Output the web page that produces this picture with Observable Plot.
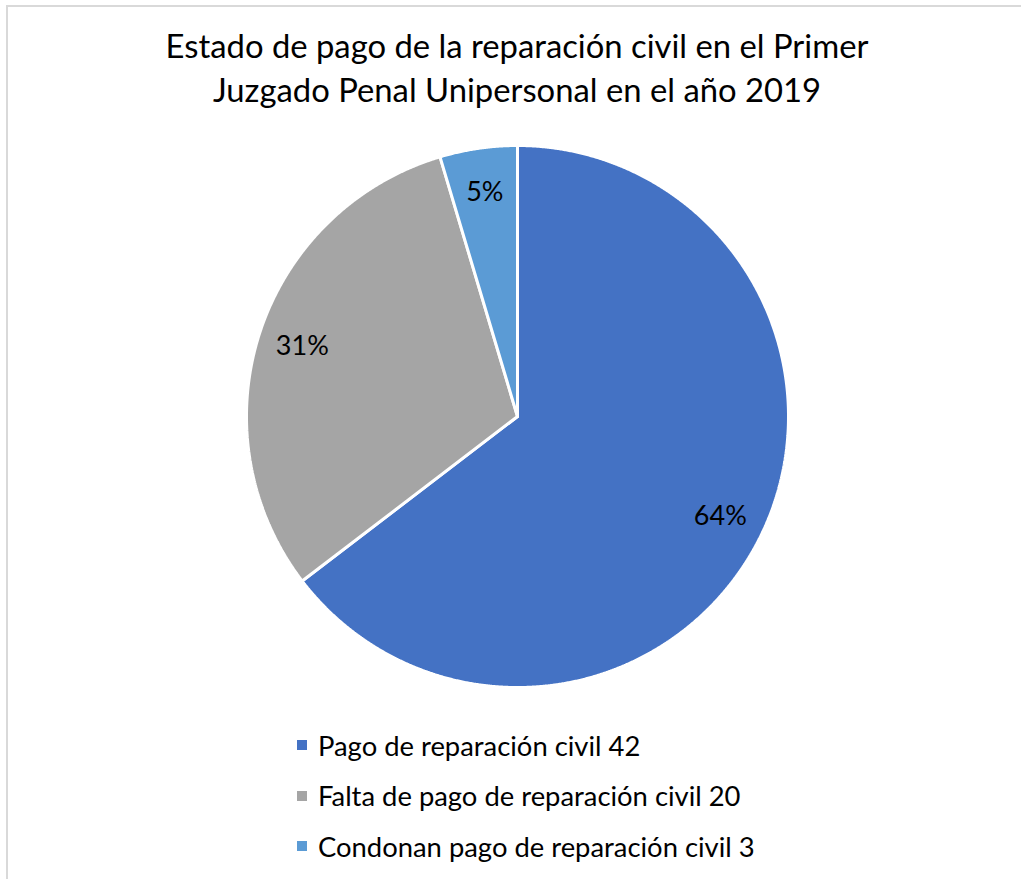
<!DOCTYPE html>
<html><head><meta charset="utf-8">
<script src="https://cdn.jsdelivr.net/npm/d3@7"></script>
<script src="https://cdn.jsdelivr.net/npm/@observablehq/plot@0.6"></script>
<style>
body{margin:0;background:#fff;font-family:Lato,"Open Sans",sans-serif;color:#000;}
#wrap{position:relative;width:1021px;height:879px;overflow:hidden;background:#fff;}
#frame{position:absolute;left:6px;top:5px;width:1100px;height:1000px;border-left:2px solid #d9d9d9;border-top:2px solid #d9d9d9;}
#title{position:absolute;top:24px;left:0;width:1034px;text-align:center;font-size:32.8px;line-height:44px;}
#chart{position:absolute;left:0;top:136px;}
#legend{position:absolute;left:297px;top:720px;font-size:27.4px;}
.row{display:flex;align-items:center;height:50.5px;}
.sw{width:10px;height:10px;margin-right:11px;}
</style>
</head><body>
<div id="wrap">
  <div id="frame"></div>
  <div id="title">Estado de pago de la reparación civil en el Primer<br>Juzgado Penal Unipersonal en el año 2019</div>
  <div id="chart"></div>
  <div id="legend"></div>
</div>
<script>
const categories = ["Pago de reparación civil", "Falta de pago de reparación civil", "Condonan pago de reparación civil"];
const values = [42, 20, 3];
const percentLabels = ["64%", "31%", "5%"];
const colors = ["#4472C4", "#A5A5A5", "#5B9BD5"];

const arcs = d3.pie().sort(null).value(d => d)(values);

// slice outlines in unit-circle coordinates (angle measured clockwise from top)
const slicePts = [];
arcs.forEach((a, i) => {
  const cat = categories[i];
  slicePts.push({cat, x: 0, y: 0});
  const n = Math.max(2, Math.ceil((a.endAngle - a.startAngle) / 0.004));
  for (let k = 0; k <= n; k++) {
    const t = a.startAngle + (a.endAngle - a.startAngle) * k / n;
    slicePts.push({cat, x: Math.sin(t), y: Math.cos(t)});
  }
  slicePts.push({cat, x: 0, y: 0});
});

const labelR = 0.835;
const labels = arcs.map((a, i) => {
  const m = (a.startAngle + a.endAngle) / 2;
  return {cat: categories[i], x: labelR * Math.sin(m), y: labelR * Math.cos(m), text: percentLabels[i]};
});

const W = 1021, H = 560, R = 271, cx = 517;
const plot = Plot.plot({
  width: W, height: H, margin: 0,
  x: {domain: [-cx / R, (W - cx) / R], axis: null},
  y: {domain: [-(H / 2) / R, (H / 2) / R], axis: null},
  color: {domain: categories, range: colors},
  style: {background: "transparent", overflow: "visible"},
  marks: [
    Plot.line(slicePts, {x: "x", y: "y", z: "cat", fill: "cat", stroke: "white", strokeWidth: 3, strokeLinejoin: "miter", curve: "linear"}),
    Plot.text(labels, {x: "x", y: "y", text: "text", fontSize: 27, fill: "black", fontFamily: "Lato"})
  ]
});
document.getElementById("chart").appendChild(plot);

const leg = d3.select("#legend");
categories.forEach((c, i) => {
  const row = leg.append("div").attr("class", "row");
  row.append("div").attr("class", "sw").style("background", colors[i]);
  row.append("span").text(c + " " + values[i]);
});
</script>
</body></html>
